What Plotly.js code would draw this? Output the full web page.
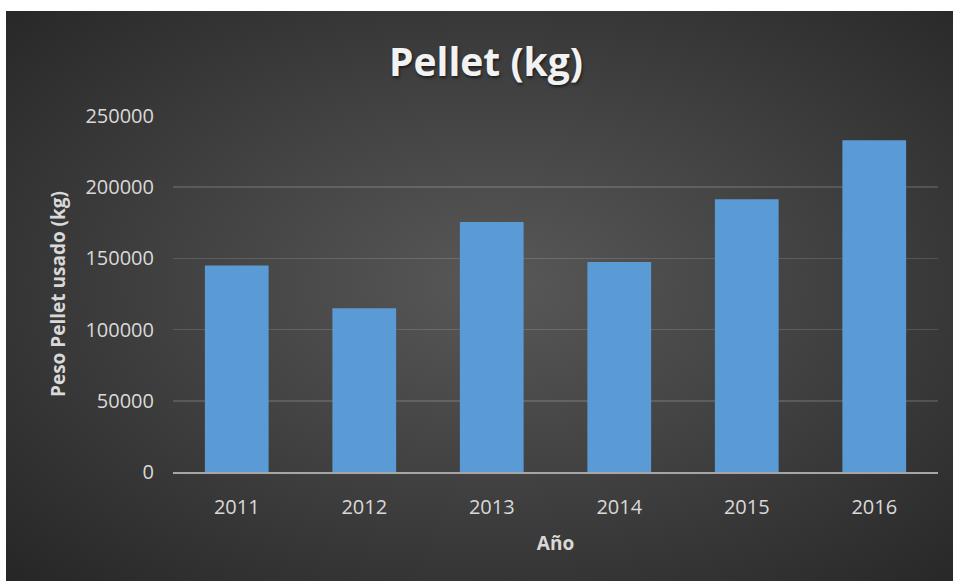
<!DOCTYPE html>
<html>
<head>
<meta charset="utf-8">
<script src="https://cdn.plot.ly/plotly-3.0.1.min.js"></script>
<style>
  html, body { margin: 0; padding: 0; background: #ffffff; }
  #wrap { position: relative; width: 953px; height: 581px; overflow: hidden; }
  #bg { position: absolute; left: 6px; top: 11px; width: 947px; height: 570px;
        background: radial-gradient(ellipse farthest-corner at 52% 48%, #585858 0%, #424242 45%, #262626 100%); }
  #chart { position: absolute; left: 0; top: 0; width: 953px; height: 581px; }
</style>
</head>
<body>
<div id="wrap">
  <div id="bg"></div>
  <div id="chart"></div>
</div>
<script>
const years = ["2011", "2012", "2013", "2014", "2015", "2016"];
const pelletKg = [145000, 115000, 175500, 147500, 191500, 233000];
const yTicks = [0, 50000, 100000, 150000, 200000, 250000];

const trace = {
  type: "bar",
  x: years,
  y: pelletKg,
  marker: { color: "#5b9bd5", line: { width: 0 } },
  hoverinfo: "x+y"
};

const layout = {
  width: 953,
  height: 581,
  paper_bgcolor: "rgba(0,0,0,0)",
  plot_bgcolor: "rgba(0,0,0,0)",
  margin: { l: 173, r: 15, t: 116, b: 109 },
  bargap: 0.5,
  showlegend: false,
  title: {
    text: "Pellet (kg)",
    x: 0.51, xref: "container", xanchor: "center",
    y: 0.893, yref: "container", yanchor: "middle",
    font: { family: "Open Sans, sans-serif", size: 39, color: "#f2f2f2", weight: 700,
            shadow: "1px 2px 3px rgba(0,0,0,0.55)" }
  },
  xaxis: {
    type: "category",
    showgrid: false,
    showline: true,
    linecolor: "#a6a6a6",
    linewidth: 2,
    ticks: "",
    ticklabelstandoff: 16,
    tickfont: { family: "Open Sans, sans-serif", size: 20, color: "#d9d9d9" },
    title: {
      text: "Año",
      standoff: 18,
      font: { family: "Open Sans, sans-serif", size: 19, color: "#d9d9d9", weight: 700 }
    }
  },
  yaxis: {
    range: [0, 250000],
    tickvals: yTicks,
    ticktext: yTicks.map(String),
    showgrid: true,
    gridcolor: "rgba(255,255,255,0.14)",
    gridwidth: 1.5,
    zeroline: false,
    showline: false,
    ticks: "",
    ticklabelstandoff: 18,
    tickfont: { family: "Open Sans, sans-serif", size: 20, color: "#d9d9d9" },
    title: {
      text: "Peso Pellet usado (kg)",
      standoff: 14,
      font: { family: "Open Sans, sans-serif", size: 19, color: "#d9d9d9", weight: 700 }
    }
  }
};

Plotly.newPlot("chart", [trace], layout, { displayModeBar: false, staticPlot: true });
</script>
</body>
</html>
